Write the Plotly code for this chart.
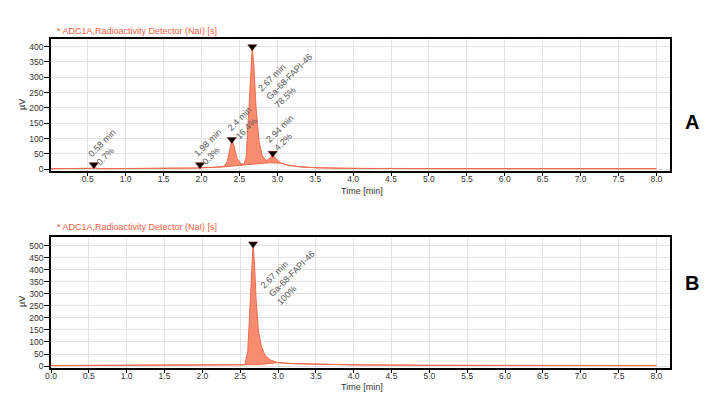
import plotly.graph_objects as go

# ---------------- data ----------------
# Panel A chromatogram (time in min, signal in µV)
time_a = [0.0, 0.5, 0.55, 0.58, 0.62, 0.7, 1.5, 1.9, 1.95, 1.98, 2.02, 2.1, 2.2, 2.3,
          2.34, 2.37, 2.4, 2.43, 2.47, 2.52, 2.56, 2.59, 2.62, 2.65, 2.67, 2.69, 2.72,
          2.76, 2.8, 2.85, 2.9, 2.94, 2.98, 3.05, 3.15, 3.3, 3.5, 3.8, 4.2, 5.0, 6.0, 7.0, 8.0]
signal_a = [2, 2, 3, 5, 3, 2, 2, 3, 4, 5, 5, 5, 7, 10,
            25, 60, 95, 75, 35, 18, 16, 40, 180, 350, 398, 340, 200,
            90, 45, 28, 35, 48, 35, 20, 13, 8, 5, 3, 2.5, 2, 2, 2, 2]
baseline_a = [2, 2, 3, 5, 3, 2, 2, 3, 4, 5, 5, 5, 6, 8,
              9, 10, 11, 12, 13, 14, 15, 16, 16.5, 17, 17.5, 18, 18.5,
              19, 20, 20.5, 21, 21, 20, 20, 13, 8, 5, 3, 2.5, 2, 2, 2, 2]

# Panel B chromatogram
time_b = [0.0, 2.0, 2.5, 2.56, 2.6, 2.63, 2.65, 2.67, 2.69, 2.71, 2.74, 2.78, 2.83,
          2.9, 3.0, 3.2, 3.5, 4.0, 5.0, 6.0, 7.0, 8.0]
signal_b = [2, 3, 3, 5, 60, 250, 430, 505, 420, 280, 150, 80, 45,
            25, 14, 10, 8, 5, 3, 2.5, 2, 2]
baseline_b = [2, 3, 3, 4, 4, 4.5, 4.5, 5, 5, 5.5, 6, 7, 8,
              10, 14, 10, 8, 5, 3, 2.5, 2, 2]

# Peak markers and labels
peak_time_a = [0.58, 1.98, 2.4, 2.67, 2.94]
peak_y_a = [15, 15, 97, 400, 52]
peak_label_a = ["0.58 min<br>0.7%", "1.98 min<br>0.3%", "2.4 min<br>16.4%",
                "2.67 min<br>Ga-68-FAPI-46<br>78.5%", "2.94 min<br>4.2%"]
label_pos_a = [(0.75, 72), (2.14, 72), (2.56, 151), (3.16, 302), (3.09, 118)]

peak_time_b = [2.67]
peak_y_b = [507]
peak_label_b = ["2.67 min<br>Ga-68-FAPI-46<br>100%"]
label_pos_b = [(3.18, 386)]

title_text = "* ADC1A,Radioactivity Detector (NaI) [s]"
x_title = "Time [min]"
y_title = "µV"

# ---------------- styling ----------------
W, H = 709.0, 397.0
ML, MR = 51, 39
PW = W - ML - MR
LINE = "#f06a4a"
FILL = "rgba(246,128,96,0.9)"
FONT = "Liberation Sans, Arial, sans-serif"
TICKFONT = dict(family=FONT, size=8.5, color="#333333")


def px_x(p):
    return (p - ML) / PW


def px_y(p):
    return 1 - p / H


fig = go.Figure()


def add_panel(t, sig, base, pk_t, pk_y, xa, ya):
    fig.add_trace(go.Scatter(x=t, y=base, mode="lines", line=dict(color=LINE, width=1),
                             xaxis=xa, yaxis=ya, showlegend=False, hoverinfo="skip"))
    fig.add_trace(go.Scatter(x=t, y=sig, mode="lines", line=dict(color=LINE, width=1),
                             fill="tonexty", fillcolor=FILL,
                             xaxis=xa, yaxis=ya, showlegend=False))
    fig.add_trace(go.Scatter(x=pk_t, y=pk_y, mode="markers",
                             marker=dict(symbol="triangle-down", size=8, color="black",
                                         line=dict(color="#7a1a10", width=0.5)),
                             xaxis=xa, yaxis=ya, showlegend=False))


add_panel(time_a, signal_a, baseline_a, peak_time_a, peak_y_a, "x", "y")
add_panel(time_b, signal_b, baseline_b, peak_time_b, peak_y_b, "x2", "y2")

common_x = dict(dtick=0.5, tickformat=".1f", showgrid=True, gridcolor="#e3e3e3", gridwidth=1,
                ticks="outside", ticklen=4, tickcolor="black", tickwidth=1,
                showline=True, linecolor="black", linewidth=1.5, mirror=True,
                zeroline=False, tickfont=TICKFONT, automargin=False,
                ticklabelstandoff=-4)
common_y = dict(dtick=50, showgrid=True, gridcolor="#e3e3e3", gridwidth=1,
                ticks="outside", ticklen=5, tickcolor="black", tickwidth=1,
                showline=True, linecolor="black", linewidth=1.5, mirror=True,
                zeroline=False, tickfont=TICKFONT, automargin=False,
                ticklabelstandoff=-1)

fig.update_layout(
    template="none",
    width=709, height=397,
    margin=dict(l=ML, r=MR, t=0, b=0),
    paper_bgcolor="white", plot_bgcolor="white",
    xaxis=dict(common_x, range=[0.015, 8.18], domain=[0, 1], anchor="y"),
    yaxis=dict(common_y, range=[-4, 425], domain=[px_y(170.5), px_y(39)], anchor="x"),
    xaxis2=dict(common_x, range=[0.0, 8.18], domain=[0, 1], anchor="y2"),
    yaxis2=dict(common_y, range=[-6, 537], domain=[px_y(367.5), px_y(236.7)], anchor="x2"),
)

ann = []
for (px, py), txt in zip(label_pos_a, peak_label_a):
    ann.append(dict(x=px, y=py, xref="x", yref="y", text=txt, showarrow=False,
                    textangle=-45, align="left", xanchor="center", yanchor="middle",
                    font=dict(family=FONT, size=9, color="#555555")))
for (px, py), txt in zip(label_pos_b, peak_label_b):
    ann.append(dict(x=px, y=py, xref="x2", yref="y2", text=txt, showarrow=False,
                    textangle=-45, align="left", xanchor="center", yanchor="middle",
                    font=dict(family=FONT, size=9, color="#555555")))

for ty, uy, xy, letter, ly in [(31, 105, 191, "A", 122), (227, 302, 387, "B", 283)]:
    ann.append(dict(x=px_x(55), y=px_y(ty), xref="paper", yref="paper", text=title_text,
                    showarrow=False, xanchor="left", yanchor="middle",
                    font=dict(family=FONT, size=9, color="#f2603f")))
    ann.append(dict(x=px_x(22), y=px_y(uy), xref="paper", yref="paper", text=y_title,
                    showarrow=False, textangle=-90, xanchor="center", yanchor="middle",
                    font=dict(family=FONT, size=9, color="#333333")))
    ann.append(dict(x=px_x(362), y=px_y(xy), xref="paper", yref="paper", text=x_title,
                    showarrow=False, xanchor="center", yanchor="middle",
                    font=dict(family=FONT, size=9, color="#333333")))
    ann.append(dict(x=px_x(692), y=px_y(ly), xref="paper", yref="paper",
                    text="<b>" + letter + "</b>", showarrow=False,
                    xanchor="center", yanchor="middle",
                    font=dict(family=FONT, size=20, color="black")))

fig.update_layout(annotations=ann)
fig.write_html("out.html")
